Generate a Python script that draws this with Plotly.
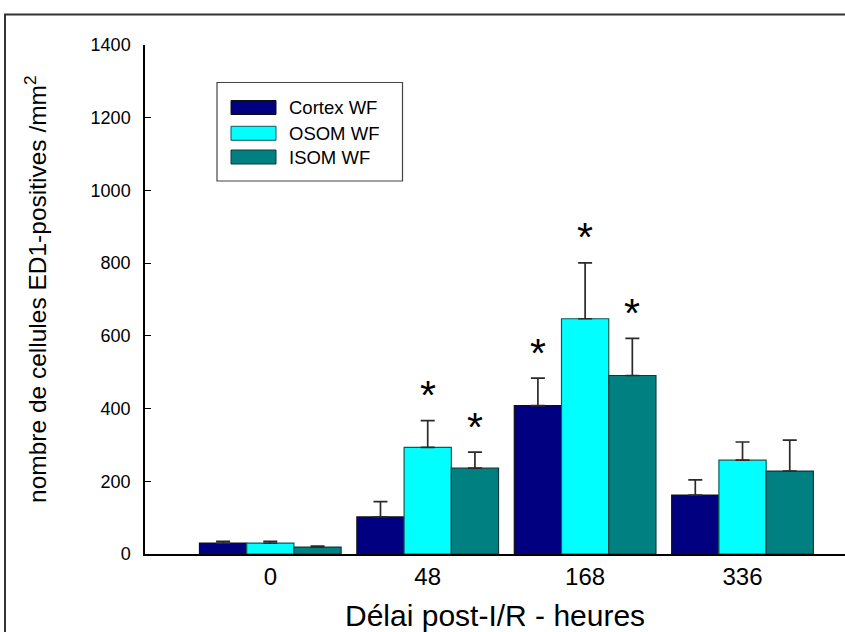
import plotly.graph_objects as go

# ---- data ----
categories = ["0", "48", "168", "336"]
series_names = ["Cortex WF", "OSOM WF", "ISOM WF"]
cortex = [30, 102, 408, 162]
cortex_err = [5, 42, 76, 42]
osom = [30, 293, 647, 258]
osom_err = [5, 74, 154, 50]
isom = [19, 236, 491, 228]
isom_err = [3, 44, 102, 85]
cortex_sig = [False, False, True, False]
osom_sig = [False, True, True, False]
isom_sig = [False, True, True, False]
y_ticks = [0, 200, 400, 600, 800, 1000, 1200, 1400]

colors = ["#000080", "#00FFFF", "#008080"]
line_colors = ["#101010", "#0c5a5a", "#0a3a3a"]
FONT = "Liberation Sans, Arial, sans-serif"
BARGAP = 0.1

W, H = 845, 632
ML, MR, MT, MB = 145, 0, 45, 78
PW, PH = W - ML - MR, H - MT - MB


def px_x(px):
    return (px - ML) / PW


def px_y(py):
    return (H - MB - py) / PH


fig = go.Figure()
vals = [cortex, osom, isom]
errs = [cortex_err, osom_err, isom_err]
sigs = [cortex_sig, osom_sig, isom_sig]

for name, v, e, c, lc in zip(series_names, vals, errs, colors, line_colors):
    fig.add_trace(go.Bar(
        x=categories, y=v, name=name,
        marker=dict(color=c, line=dict(color=lc, width=1.2)),
        error_y=dict(type="data", array=e, arrayminus=[0] * len(e), symmetric=False,
                     color="#2a2a2a", thickness=1.7, width=7),
        showlegend=False,
    ))

shapes = []
annotations = []

# significance stars, placed over the bar they mark (category index + group offset)
STAR_OFFSET = 70
nser = len(series_names)
bar_w = (1 - BARGAP) / nser
for si in range(nser):
    for ci, cat in enumerate(categories):
        if sigs[si][ci]:
            annotations.append(dict(
                xref="x", yref="y",
                x=ci + (si - (nser - 1) / 2) * bar_w,
                y=vals[si][ci] + errs[si][ci] + STAR_OFFSET,
                xanchor="center", yanchor="middle", showarrow=False, text="*",
                font=dict(family=FONT, size=41, color="black")))

# outer frame
shapes.append(dict(type="rect", xref="paper", yref="paper",
                   x0=px_x(5), x1=px_x(900), y0=px_y(700), y1=px_y(14.5),
                   line=dict(color="#333333", width=2), fillcolor="rgba(0,0,0,0)", layer="below"))

# legend box
shapes.append(dict(type="rect", xref="paper", yref="paper",
                   x0=px_x(217), x1=px_x(402.5), y0=px_y(181), y1=px_y(82.5),
                   line=dict(color="#444444", width=1.2), fillcolor="white"))
row_centers = [107.5, 133.3, 157]
for name, c, lc, yc in zip(series_names, colors, line_colors, row_centers):
    shapes.append(dict(type="rect", xref="paper", yref="paper",
                       x0=px_x(231), x1=px_x(276), y0=px_y(yc + 7), y1=px_y(yc - 7),
                       line=dict(color=lc, width=1), fillcolor=c))
    annotations.append(dict(xref="paper", yref="paper", x=px_x(287), y=px_y(yc),
                            xanchor="left", yanchor="middle", showarrow=False,
                            text=name, font=dict(family=FONT, size=18.5, color="black")))

# axis titles
annotations.append(dict(xref="paper", yref="paper", x=px_x(35), y=px_y(289),
                        xanchor="center", yanchor="middle", textangle=-90, showarrow=False,
                        text="nombre de cellules ED1-positives /mm<sup>2</sup>",
                        font=dict(family=FONT, size=24.5, color="black")))
annotations.append(dict(xref="paper", yref="paper", x=px_x(495), y=px_y(615),
                        xanchor="center", yanchor="middle", showarrow=False,
                        text="Délai post-I/R - heures",
                        font=dict(family=FONT, size=30, color="black")))

fig.update_layout(
    width=W, height=H,
    margin=dict(l=ML, r=MR, t=MT, b=MB, pad=0),
    paper_bgcolor="white", plot_bgcolor="white",
    barmode="group", bargap=BARGAP, bargroupgap=0,
    font=dict(family=FONT, color="black"),
    shapes=shapes, annotations=annotations,
    xaxis=dict(type="category", categoryorder="array", categoryarray=categories,
               range=[-0.796, 3.651], showline=True, linecolor="black", linewidth=2.2,
               ticks="", showgrid=False, zeroline=False,
               tickfont=dict(family=FONT, size=24, color="black"), ticklabelstandoff=0),
    yaxis=dict(range=[0, 1400], tickvals=y_ticks, ticktext=[str(t) for t in y_ticks],
               showline=True, linecolor="black", linewidth=1.5,
               ticks="inside", ticklen=6, tickwidth=1.2, tickcolor="black",
               showgrid=False, zeroline=False,
               tickfont=dict(family=FONT, size=18, color="black"), ticklabelstandoff=9),
)

fig.write_html("out.html")
